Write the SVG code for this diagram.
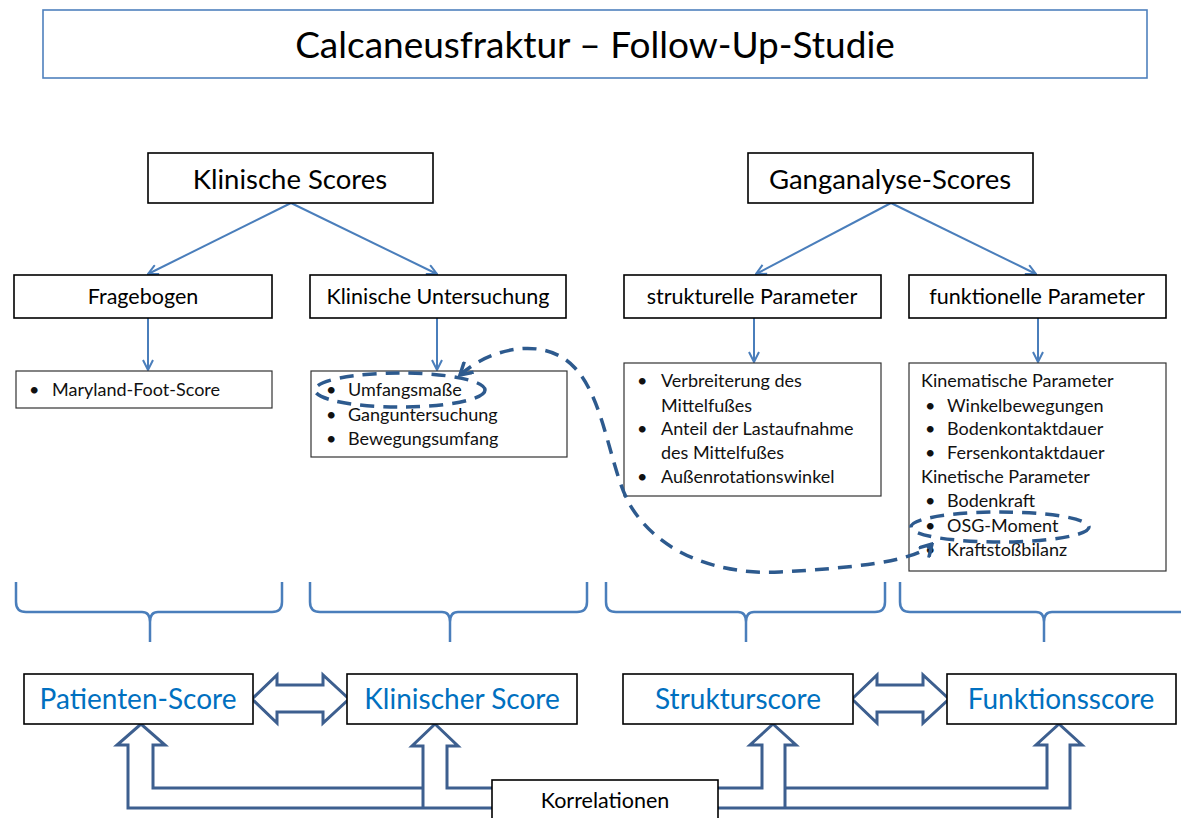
<svg xmlns="http://www.w3.org/2000/svg" width="1181" height="818" viewBox="0 0 1181 818">
<style>
.box{fill:#fff;stroke:#000;stroke-width:1.6}
.lbox{fill:#fff;stroke:#333;stroke-width:1.2}
.t{font-family:Lato,"Liberation Sans",sans-serif;fill:#000}
.h1{font-size:37px;text-anchor:middle}
.h2{font-size:27.5px;text-anchor:middle}
.h3{font-size:21.5px;text-anchor:middle}
.li{font-size:18px;fill:#111}
.sc{font-family:Lato,"Liberation Sans",sans-serif;font-size:28px;fill:#0070C0;text-anchor:middle}
.con{fill:none;stroke:#4A7EBB;stroke-width:2}
.brace{fill:none;stroke:#4A7EBB;stroke-width:2.5}
.blk{fill:#fff;stroke:#3D5F8F;stroke-width:3;stroke-linejoin:miter}
.blkl{fill:none;stroke:#3D5F8F;stroke-width:3}
.dash{fill:none;stroke:#2D5A8E;stroke-width:3.5;stroke-dasharray:14 9}
</style>
<defs>
<marker id="ah" viewBox="0 0 12 12" refX="11" refY="6" markerWidth="12" markerHeight="12" markerUnits="userSpaceOnUse" orient="auto">
<path d="M1,1 L11,6 L1,11" fill="none" stroke="#4A7EBB" stroke-width="2"/>
</marker>
<marker id="dh" viewBox="0 0 16 16" refX="14" refY="8" markerWidth="16" markerHeight="16" markerUnits="userSpaceOnUse" orient="auto-start-reverse">
<path d="M2,1 L14,8 L2,15" fill="none" stroke="#2D5A8E" stroke-width="3.5"/>
</marker>
</defs>
<rect width="1181" height="818" fill="#fff"/>

<g id="title">
<rect x="43" y="10" width="1104" height="68" fill="#fff" stroke="#4F81BD" stroke-width="1.6"/>
<text class="t h1" x="595" y="58">Calcaneusfraktur – Follow-Up-Studie</text>
</g>

<g id="connectors">
<line class="con" x1="291" y1="203" x2="148" y2="274" marker-end="url(#ah)"/>
<line class="con" x1="291" y1="203" x2="437" y2="274" marker-end="url(#ah)"/>
<line class="con" x1="891" y1="203" x2="756" y2="274" marker-end="url(#ah)"/>
<line class="con" x1="891" y1="203" x2="1036" y2="274" marker-end="url(#ah)"/>
<line class="con" x1="148" y1="318" x2="148" y2="370" marker-end="url(#ah)"/>
<line class="con" x1="437" y1="318" x2="437" y2="370" marker-end="url(#ah)"/>
<line class="con" x1="754" y1="318" x2="754" y2="362" marker-end="url(#ah)"/>
<line class="con" x1="1038" y1="318" x2="1038" y2="362" marker-end="url(#ah)"/>
</g>

<g id="klinische-scores">
<rect class="box" x="148" y="153" width="285" height="50"/>
<text class="t h2" x="290" y="189">Klinische Scores</text>
</g>
<g id="ganganalyse-scores">
<rect class="box" x="748" y="153" width="285" height="50"/>
<text class="t h2" x="890" y="189">Ganganalyse-Scores</text>
</g>

<g id="fragebogen">
<rect class="box" x="14" y="275" width="258" height="43"/>
<text class="t h3" x="143" y="304">Fragebogen</text>
</g>
<g id="klinische-untersuchung">
<rect class="box" x="310" y="275" width="256" height="43"/>
<text class="t h3" x="438" y="304">Klinische Untersuchung</text>
</g>
<g id="strukturelle-parameter">
<rect class="box" x="624" y="275" width="257" height="43"/>
<text class="t h3" x="752" y="304">strukturelle Parameter</text>
</g>
<g id="funktionelle-parameter">
<rect class="box" x="909" y="275" width="257" height="43"/>
<text class="t h3" x="1037" y="304">funktionelle Parameter</text>
</g>

<g id="list-fragebogen">
<rect class="lbox" x="16" y="371" width="256" height="37"/>
<text class="t li" x="29" y="396">•</text>
<text class="t li" x="52" y="396">Maryland-Foot-Score</text>
</g>
<g id="list-klinisch">
<rect class="lbox" x="311" y="371" width="256" height="86"/>
<text class="t li" x="326" y="396">•</text><text class="t li" x="348" y="396">Umfangsmaße</text>
<text class="t li" x="326" y="421">•</text><text class="t li" x="348" y="421">Ganguntersuchung</text>
<text class="t li" x="326" y="445">•</text><text class="t li" x="348" y="445">Bewegungsumfang</text>
</g>
<g id="list-strukturell">
<rect class="lbox" x="624" y="363" width="257" height="133"/>
<text class="t li" x="637" y="387">•</text><text class="t li" x="661" y="387">Verbreiterung des</text>
<text class="t li" x="661" y="412">Mittelfußes</text>
<text class="t li" x="637" y="435">•</text><text class="t li" x="661" y="435">Anteil der Lastaufnahme</text>
<text class="t li" x="661" y="459">des Mittelfußes</text>
<text class="t li" x="637" y="483">•</text><text class="t li" x="661" y="483">Außenrotationswinkel</text>
</g>
<g id="list-funktionell">
<rect class="lbox" x="909" y="363" width="257" height="208"/>
<text class="t li" x="921" y="387">Kinematische Parameter</text>
<text class="t li" x="925" y="412">•</text><text class="t li" x="947" y="412">Winkelbewegungen</text>
<text class="t li" x="925" y="435">•</text><text class="t li" x="947" y="435">Bodenkontaktdauer</text>
<text class="t li" x="925" y="459">•</text><text class="t li" x="947" y="459">Fersenkontaktdauer</text>
<text class="t li" x="921" y="483">Kinetische Parameter</text>
<text class="t li" x="925" y="507">•</text><text class="t li" x="947" y="507">Bodenkraft</text>
<text class="t li" x="925" y="532">•</text><text class="t li" x="947" y="532">OSG-Moment</text>
<text class="t li" x="925" y="556">•</text><text class="t li" x="947" y="556">Kraftstoßbilanz</text>
</g>

<g id="highlight">
<ellipse class="dash" cx="400" cy="390" rx="85" ry="17"/>
<ellipse class="dash" cx="1000" cy="527" rx="89" ry="15"/>
<path class="dash" d="M460,375 C490,348 545,335 575,368 C605,400 610,470 630,505 C660,555 720,575 780,572 C850,568 915,562 932,544" marker-start="url(#dh)" marker-end="url(#dh)"/>
</g>

<g id="braces">
<path class="brace" d="M16,582 V602 Q16,612 26,612 H142 Q150,612 150,622 V642 M150,622 Q150,612 158,612 H272 Q282,612 282,602 V582"/>
<path class="brace" d="M310,582 V602 Q310,612 320,612 H442 Q450,612 450,622 V642 M450,622 Q450,612 458,612 H577 Q587,612 587,602 V582"/>
<path class="brace" d="M606,582 V602 Q606,612 616,612 H738 Q746,612 746,622 V642 M746,622 Q746,612 754,612 H875 Q885,612 885,602 V582"/>
<path class="brace" d="M900,582 V602 Q900,612 910,612 H1036 Q1044,612 1044,622 V642 M1044,622 Q1044,612 1052,612 H1181"/>
</g>

<g id="correlation-arrows">
<path class="blk" d="M252,699 L277,675 V685 H323 V675 L349,699 L323,723 V712 H277 V723 Z"/>
<path class="blk" d="M852,699 L877,675 V685 H923 V675 L949,699 L923,723 V712 H877 V723 Z"/>
<path class="blkl" d="M492,808 H128 V745 H117 L141,724 L165,745 H153 V788 H423"/>
<path class="blkl" d="M423,808 V746 H412 L435,724 L458,746 H447 V788 H492"/>
<path class="blkl" d="M718,808 H1070 V745 H1082 L1059,724 L1036,745 H1047 V788 H785"/>
<path class="blkl" d="M785,808 V745 H796 L773,724 L750,745 H762 V788 H718"/>
</g>

<g id="patienten-score">
<rect class="box" x="24" y="674" width="229" height="50"/>
<text class="sc" x="138" y="709">Patienten-Score</text>
</g>
<g id="klinischer-score">
<rect class="box" x="347" y="674" width="230" height="50"/>
<text class="sc" x="462" y="709">Klinischer Score</text>
</g>
<g id="strukturscore">
<rect class="box" x="623" y="674" width="230" height="50"/>
<text class="sc" x="738" y="709">Strukturscore</text>
</g>
<g id="funktionsscore">
<rect class="box" x="947" y="674" width="229" height="50"/>
<text class="sc" x="1061" y="709">Funktionsscore</text>
</g>

<g id="korrelationen">
<rect class="box" x="492" y="780" width="226" height="40"/>
<text class="t h3" x="605" y="808">Korrelationen</text>
</g>
</svg>
